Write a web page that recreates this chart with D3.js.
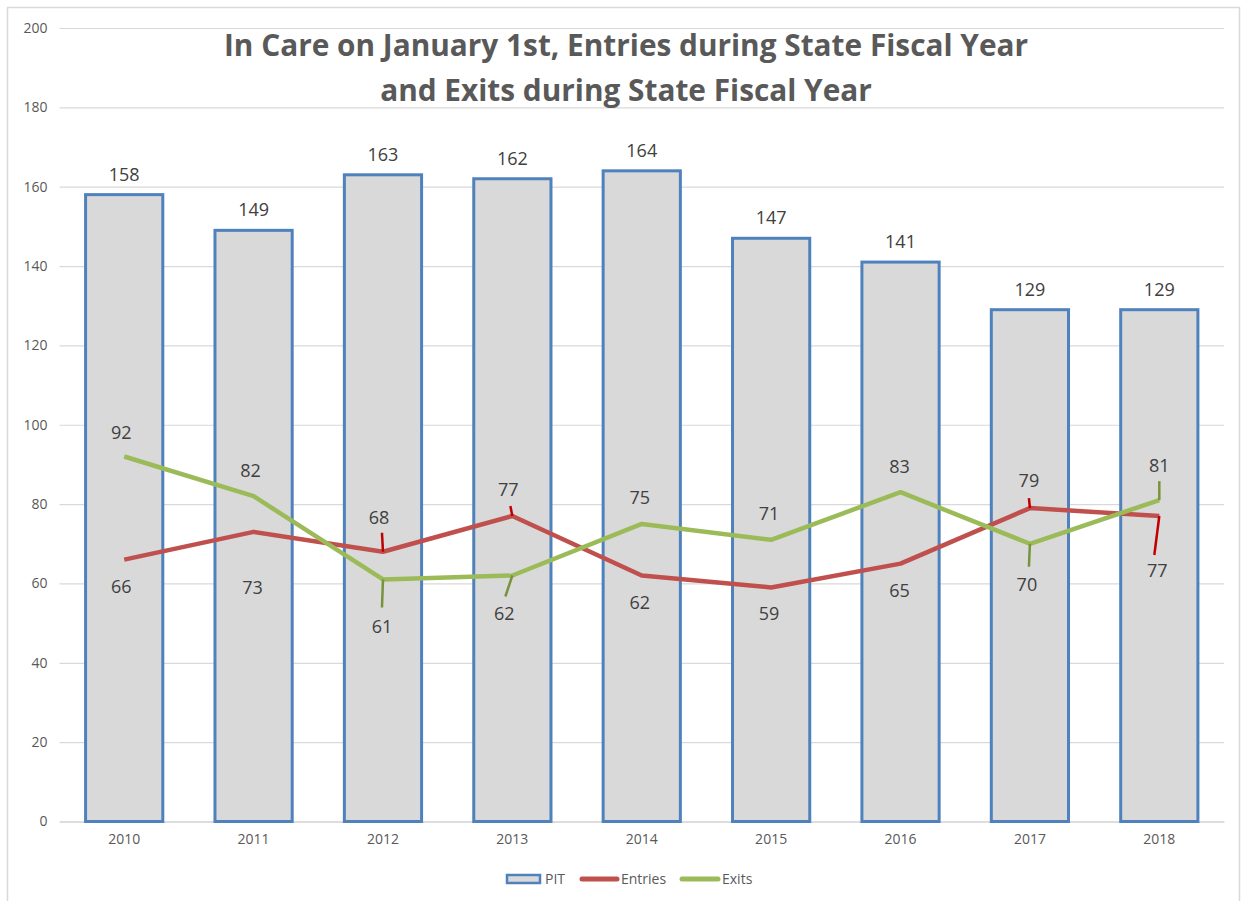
<!DOCTYPE html>
<html>
<head>
<meta charset="utf-8">
<script src="https://cdn.jsdelivr.net/npm/d3@7"></script>
<style>
html,body{margin:0;padding:0;background:#fff;}
svg{display:block;}
text{font-family:"Open Sans","Noto Sans",sans-serif;}
</style>
</head>
<body>
<svg id="chart" width="1244" height="901"></svg>
<script>
// ---- data ----
const years = ["2010","2011","2012","2013","2014","2015","2016","2017","2018"];
const pit = [158,149,163,162,164,147,141,129,129];
const entries = [66,73,68,77,62,59,65,79,77];
const exits = [92,82,61,62,75,71,83,70,81];
const yTicks = [0,20,40,60,80,100,120,140,160,180,200];
const titleLines = ["In Care on January 1st, Entries during State Fiscal Year","and Exits during State Fiscal Year"];
const seriesNames = ["PIT","Entries","Exits"];

// ---- label layout (pixel offsets from point) ----
const entryLabelOff = [[-3,27],[-1,56],[-4,-34],[-4,-26],[-2,27],[-2,26],[-1,27],[-1,-27],[-2,55]];
const exitLabelOff  = [[-3,-24],[-3,-25],[-1,47],[-8,38],[-2,-26],[-2,-26],[-1,-25],[-3,41],[0,-34]];
// leader lines: index -> [from point dx,dy, to dx,dy]
const entryLeaders = {2:[0,0,-1,-19],3:[0,0,-2,-10],7:[0,0,-1,-10],8:[0,0,-5,39]};
const exitLeaders  = {2:[0,0,-1,28],3:[0,0,-7,21],7:[0,0,-1,23],8:[0,0,0,-19]};

const svg = d3.select("#chart");
const W = 1244, H = 901;
const m = {left:59.5, right:W-1224, top:28, bottom:H-821.5};

// border
svg.append("rect").attr("x",7.5).attr("y",7.5).attr("width",1232).attr("height",905)
  .attr("fill","#fff").attr("stroke","#d9d9d9").attr("stroke-width",1.5);

const x = d3.scaleBand().domain(years).range([m.left, W-m.right]).paddingInner(0.38).paddingOuter(0.19);
const y = d3.scaleLinear().domain([0,200]).range([H-m.bottom, m.top]);

// gridlines
const yAxis = d3.axisLeft(y).tickValues(yTicks).tickSize(-(W-m.right-m.left)).tickPadding(12);
const gy = svg.append("g").attr("transform",`translate(${m.left},0)`).call(yAxis);
gy.select(".domain").remove();
gy.selectAll(".tick line").attr("stroke","#d9d9d9").attr("stroke-width",1.2);
gy.selectAll(".tick text").attr("fill","#595959").style("font-size","14px");

// x axis
const xAxis = d3.axisBottom(x).tickSize(0).tickPadding(13);
const gx = svg.append("g").attr("transform",`translate(0,${H-m.bottom})`).call(xAxis);
gx.select(".domain").attr("stroke","#d9d9d9").attr("stroke-width",1.5);
gx.selectAll(".tick text").attr("fill","#595959").style("font-size","14px");

// bars
svg.append("g").selectAll("rect").data(pit).join("rect")
  .attr("x",(d,i)=>x(years[i])+1.5)
  .attr("y",d=>y(d))
  .attr("width",x.bandwidth()-3)
  .attr("height",d=>y(0)-y(d))
  .attr("fill","#d9d9d9").attr("stroke","#4f81bd").attr("stroke-width",3);

// bar labels
svg.append("g").selectAll("text").data(pit).join("text")
  .attr("x",(d,i)=>x(years[i])+x.bandwidth()/2)
  .attr("y",d=>y(d)-14)
  .attr("text-anchor","middle").attr("fill","#404040").style("font-size","18px")
  .text(d=>d);

const cx = i => x(years[i])+x.bandwidth()/2;
const line = d3.line().x((d,i)=>cx(i)).y(d=>y(d));

svg.append("path").datum(entries).attr("d",line).attr("fill","none")
  .attr("stroke","#c0504d").attr("stroke-width",4.5).attr("stroke-linejoin","round");
svg.append("path").datum(exits).attr("d",line).attr("fill","none")
  .attr("stroke","#9bbb59").attr("stroke-width",4.5).attr("stroke-linejoin","round");

function leaders(vals, L, color){
  const g = svg.append("g");
  Object.keys(L).forEach(k=>{
    const i=+k, a=L[k];
    g.append("line").attr("x1",cx(i)+a[0]).attr("y1",y(vals[i])+a[1])
      .attr("x2",cx(i)+a[2]).attr("y2",y(vals[i])+a[3])
      .attr("stroke",color).attr("stroke-width",2.5);
  });
}
leaders(entries, entryLeaders, "#c00000");
leaders(exits, exitLeaders, "#77933c");

function labels(vals, off){
  svg.append("g").selectAll("text").data(vals).join("text")
    .attr("x",(d,i)=>cx(i)+off[i][0])
    .attr("y",(d,i)=>y(d)+off[i][1])
    .attr("dy","0.35em")
    .attr("text-anchor","middle").attr("fill","#404040").style("font-size","18px")
    .text(d=>d);
}
labels(entries, entryLabelOff);
labels(exits, exitLabelOff);

// title
svg.append("g").selectAll("text").data(titleLines).join("text")
  .attr("x",626).attr("y",(d,i)=>56+i*45)
  .attr("text-anchor","middle").attr("fill","#595959")
  .style("font-size","29.8px").style("font-weight","bold")
  .text(d=>d);

// legend
const lg = svg.append("g").attr("transform","translate(0,879)");
lg.append("rect").attr("x",507).attr("y",-4).attr("width",33).attr("height",8)
  .attr("fill","#d9d9d9").attr("stroke","#4f81bd").attr("stroke-width",2.5);
lg.append("text").attr("x",545).attr("y",0).attr("dy","0.35em").attr("fill","#595959").style("font-size","14px").text(seriesNames[0]);
lg.append("line").attr("x1",582).attr("x2",617).attr("y1",0).attr("y2",0).attr("stroke","#c0504d").attr("stroke-width",5).attr("stroke-linecap","round");
lg.append("text").attr("x",621).attr("y",0).attr("dy","0.35em").attr("fill","#595959").style("font-size","14px").text(seriesNames[1]);
lg.append("line").attr("x1",682).attr("x2",718).attr("y1",0).attr("y2",0).attr("stroke","#9bbb59").attr("stroke-width",5).attr("stroke-linecap","round");
lg.append("text").attr("x",722).attr("y",0).attr("dy","0.35em").attr("fill","#595959").style("font-size","14px").text(seriesNames[2]);
</script>
</body>
</html>
